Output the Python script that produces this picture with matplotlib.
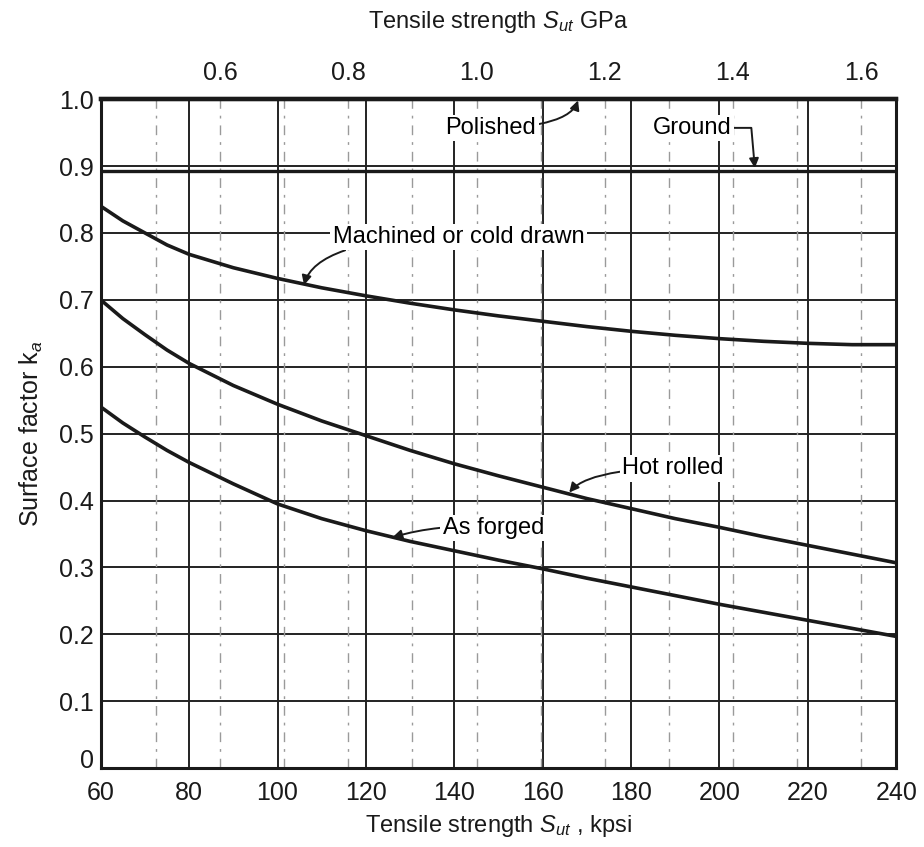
import matplotlib
matplotlib.use("Agg")
import matplotlib.pyplot as plt
import numpy as np

plt.rcParams['font.family'] = ['Liberation Sans', 'DejaVu Sans']
plt.rcParams['mathtext.fontset'] = 'custom'
plt.rcParams['mathtext.rm'] = 'Liberation Sans'
plt.rcParams['mathtext.it'] = 'Liberation Sans:italic'
plt.rcParams['mathtext.bf'] = 'Liberation Sans:bold'

# ---- data ----
kpsi_machined = [60, 65, 70, 75, 80, 90, 100, 110, 120, 130, 140, 150, 160, 170,
                 180, 190, 200, 210, 220, 230, 240]
ka_machined = [0.84, 0.818, 0.80, 0.782, 0.768, 0.748, 0.732, 0.718, 0.706, 0.695,
               0.685, 0.676, 0.668, 0.66, 0.653, 0.647, 0.642, 0.638, 0.635, 0.633, 0.633]

kpsi_hot = [60, 65, 70, 75, 80, 90, 100, 110, 120, 130, 140, 150, 160, 170,
            180, 190, 200, 210, 220, 230, 240]
ka_hot = [0.70, 0.672, 0.648, 0.625, 0.605, 0.572, 0.544, 0.519, 0.497, 0.475,
          0.455, 0.437, 0.42, 0.403, 0.388, 0.373, 0.36, 0.346, 0.333, 0.32, 0.307]

kpsi_forged = [60, 65, 70, 75, 80, 90, 100, 110, 120, 130, 140, 150, 160, 170,
               180, 190, 200, 210, 220, 230, 240]
ka_forged = [0.54, 0.516, 0.495, 0.475, 0.457, 0.425, 0.395, 0.373, 0.355, 0.339,
             0.325, 0.311, 0.298, 0.284, 0.271, 0.258, 0.245, 0.233, 0.221, 0.209, 0.197]

kpsi_ground = [60, 240]
ka_ground = [0.893, 0.893]
kpsi_polished = [60, 240]
ka_polished = [1.0, 1.0]

x_ticks = [60, 80, 100, 120, 140, 160, 180, 200, 220, 240]
y_ticks = [0, 0.1, 0.2, 0.3, 0.4, 0.5, 0.6, 0.7, 0.8, 0.9, 1.0]
y_tick_labels = ['0', '0.1', '0.2', '0.3', '0.4', '0.5', '0.6', '0.7', '0.8', '0.9', '1.0']
gpa_lines = [0.5, 0.6, 0.7, 0.8, 0.9, 1.0, 1.1, 1.2, 1.3, 1.4, 1.5, 1.6]
gpa_ticks = [0.6, 0.8, 1.0, 1.2, 1.4, 1.6]
gpa_tick_labels = ['0.6', '0.8', '1.0', '1.2', '1.4', '1.6']
KPSI_PER_GPA = 145.04

fig = plt.figure(figsize=(9.24, 8.47), dpi=100)
ax = fig.add_axes([0.109, 0.093, 0.861, 0.790])
ax.set_xlim(60, 240)
ax.set_ylim(0, 1.0)

# grid
for y in y_ticks:
    ax.axhline(y, color='#222222', lw=1.4, zorder=1)
for x in x_ticks:
    ax.axvline(x, color='#222222', lw=1.4, zorder=1)
for g in gpa_lines:
    ax.axvline(g * KPSI_PER_GPA, color='#9a9a9a', lw=1.0,
               linestyle=(0, (7, 5, 2, 5)), zorder=1)

# curves
lc = '#1a1a1a'
ax.plot(kpsi_machined, ka_machined, color=lc, lw=2.6, zorder=3)
ax.plot(kpsi_hot, ka_hot, color=lc, lw=2.6, zorder=3)
ax.plot(kpsi_forged, ka_forged, color=lc, lw=2.6, zorder=3)
ax.plot(kpsi_ground, ka_ground, color=lc, lw=2.4, zorder=3)
ax.plot(kpsi_polished, ka_polished, color=lc, lw=3.2, zorder=3, clip_on=False)

for s in ax.spines.values():
    s.set_linewidth(2.2)
    s.set_color('#1a1a1a')
ax.spines['top'].set_linewidth(3.0)

ax.set_xticks(x_ticks)
ax.set_xticklabels([str(v) for v in x_ticks])
ax.set_yticks(y_ticks)
ax.set_yticklabels(y_tick_labels)
ax.tick_params(axis='y', length=0, labelsize=18, pad=5, colors='#1a1a1a')
ax.tick_params(axis='x', length=0, labelsize=18, pad=9, colors='#1a1a1a')
# the "0" label sits just above the corner, as in the reference
ax.get_yticklabels()[0].set_verticalalignment('baseline')

ax.set_xlabel(r'Tensile strength $S_{ut}$ , kpsi', fontsize=17, labelpad=6, color='#1a1a1a')
ax.set_ylabel(r'Surface factor k$_{\mathit{a}}$', fontsize=18, labelpad=10, color='#1a1a1a')

# top GPa axis
sec = ax.secondary_xaxis('top', functions=(lambda k: k / KPSI_PER_GPA, lambda g: g * KPSI_PER_GPA))
sec.set_xticks(gpa_ticks)
sec.set_xticklabels(gpa_tick_labels)
sec.tick_params(length=0, labelsize=18, pad=10, colors='#1a1a1a')
sec.spines['top'].set_visible(False)
sec.set_xlabel(r'Tensile strength $S_{ut}$ GPa', fontsize=17, labelpad=24, color='#1a1a1a')

# annotations
arrow = dict(arrowstyle='-|>', color=lc, lw=1.4, mutation_scale=14, shrinkA=0, shrinkB=0)
box = dict(boxstyle='square,pad=0.1', fc='white', ec='none')
ax.annotate('Machined or cold drawn', xy=(106, 0.722), xytext=(112.5, 0.794),
            fontsize=17, va='center', ha='left', bbox=box, zorder=5,
            arrowprops=dict(arrow, connectionstyle='angle3,angleA=0,angleB=75'))
ax.annotate('Hot rolled', xy=(166, 0.412), xytext=(178, 0.448),
            fontsize=17, va='center', ha='left', bbox=box, zorder=5,
            arrowprops=dict(arrow, connectionstyle='angle3,angleA=0,angleB=50'))
ax.annotate('As forged', xy=(126, 0.345), xytext=(137.4, 0.359),
            fontsize=17, va='center', ha='left', bbox=box, zorder=5,
            arrowprops=dict(arrow, connectionstyle='arc3,rad=0.1'))
ax.annotate('Polished', xy=(168, 0.998), xytext=(138, 0.957),
            fontsize=17, va='center', ha='left', bbox=box, zorder=5,
            arrowprops=dict(arrow, connectionstyle='angle3,angleA=0,angleB=70'))
ax.annotate('Ground', xy=(208, 0.897), xytext=(185, 0.957),
            fontsize=17, va='center', ha='left', bbox=box, zorder=5,
            arrowprops=dict(arrow, connectionstyle='angle,angleA=0,angleB=95,rad=0'))

fig.savefig('out.png', dpi=100)
